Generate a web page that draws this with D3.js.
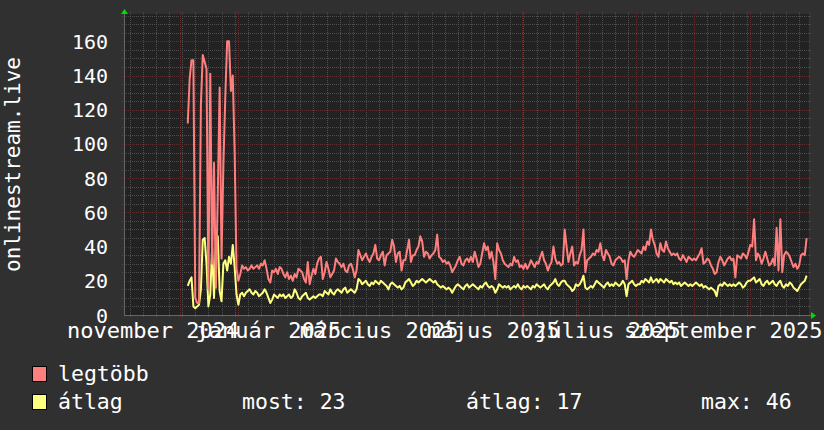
<!DOCTYPE html>
<html>
<head>
<meta charset="utf-8">
<script src="https://cdn.jsdelivr.net/npm/d3@7"></script>
<style>
  html, body { margin: 0; padding: 0; background: #303030; }
  svg { display: block; }
  text { font-family: "DejaVu Sans Mono", monospace; fill: #ffffff; }
</style>
</head>
<body>
<div id="chart"></div>
<script>
// daily values, first day 2024-12-05
const firstDay = "2024-12-05";

const legtobb = [
  112, 138, 149, 149, 10, 7, 7, 123, 152, 148,
  144, 15, 141, 30, 89, 16, 70, 133, 33, 88,
  127, 160, 160, 131, 140, 95, 27, 20, 24, 29,
  27, 28, 26, 27, 29, 27, 28, 29, 27, 30,
  29, 32, 27, 21, 19, 26, 25, 27, 24, 28,
  27, 24, 22, 25, 21, 23, 20, 24, 22, 27,
  26, 25, 21, 19, 31, 18, 23, 27, 24, 30,
  33, 34, 21, 25, 31, 27, 22, 24, 26, 33,
  31, 30, 28, 30, 26, 25, 29, 30, 27, 22,
  26, 38, 35, 32, 34, 36, 33, 31, 34, 36,
  41, 33, 32, 35, 37, 29, 35, 36, 37, 44,
  40, 31, 36, 37, 26, 32, 32, 38, 44, 31,
  35, 35, 38, 40, 46, 43, 34, 37, 36, 33,
  35, 36, 38, 47, 34, 33, 31, 32, 30, 31,
  29, 25, 27, 29, 32, 34, 30, 29, 32, 33,
  31, 34, 31, 37, 33, 28, 30, 36, 42, 38,
  40, 33, 37, 31, 21, 42, 38, 36, 32, 30,
  29, 28, 30, 29, 34, 31, 32, 28, 29, 27,
  30, 27, 29, 32, 30, 28, 31, 30, 34, 37,
  32, 30, 26, 29, 31, 40, 33, 30, 31, 29,
  30, 50, 40, 31, 36, 40, 29, 31, 30, 35,
  38, 50, 25, 32, 33, 34, 36, 35, 38, 37,
  42, 35, 32, 38, 36, 34, 30, 29, 32, 33,
  34, 33, 31, 32, 21, 32, 37, 35, 34, 36,
  38, 37, 36, 40, 38, 43, 41, 50, 44, 41,
  36, 34, 42, 38, 37, 43, 39, 37, 35, 36,
  35, 36, 33, 32, 35, 33, 31, 34, 33, 32,
  33, 32, 34, 36, 39, 30, 31, 33, 32, 29,
  27, 24, 25, 31, 34, 32, 29, 31, 33, 34,
  32, 33, 22, 35, 34, 33, 36, 35, 33, 37,
  41, 40, 56, 32, 36, 34, 30, 33, 37, 33,
  29, 30, 33, 29, 51, 26, 56, 25, 35, 37,
  36, 34, 31, 28, 30, 27, 29, 35, 36, 35,
  45
];

const atlag = [
  17, 20, 22, 5, 4, 5, 6, 15, 44, 45,
  30, 5, 12, 39, 10, 42, 46, 14, 8, 30,
  32, 26, 34, 30, 41, 28, 12, 6, 12, 13,
  11, 13, 14, 15, 13, 12, 14, 13, 11, 12,
  13, 15, 13, 10, 7, 9, 12, 11, 10, 12,
  11, 12, 10, 11, 12, 10, 11, 15, 13, 10,
  9, 11, 12, 13, 10, 9, 10, 11, 10, 11,
  12, 12, 11, 14, 13, 12, 15, 13, 12, 14,
  15, 14, 13, 15, 16, 13, 14, 15, 14, 13,
  15, 21, 20, 18, 19, 20, 18, 17, 19, 18,
  20, 19, 18, 20, 19, 18, 17, 15, 18, 19,
  18, 17, 16, 17, 15, 16, 19, 20, 21, 19,
  17, 18, 20, 19, 20, 21, 20, 19, 20, 21,
  20, 19, 20, 18, 17, 16, 17, 16, 15, 16,
  15, 13, 15, 17, 18, 17, 16, 15, 17, 18,
  16, 17, 18, 17, 16, 15, 17, 16, 18, 19,
  17, 16, 17, 16, 13, 15, 18, 17, 16, 17,
  16, 17, 15, 16, 17, 16, 18, 16, 15, 17,
  16, 17, 16, 15, 17, 16, 18, 17, 16, 17,
  18, 16, 15, 17, 18, 19, 21, 18, 17, 19,
  20, 20, 18, 17, 16, 14, 15, 18, 17, 18,
  20, 23, 16, 15, 16, 17, 16, 18, 20, 19,
  18, 17, 16, 18, 19, 17, 18, 17, 19, 18,
  17, 18, 20, 18, 11, 18, 19, 20, 18, 17,
  18, 18, 20, 19, 21, 20, 19, 22, 19, 20,
  21, 19, 21, 20, 19, 21, 20, 19, 20, 18,
  19, 18, 19, 17, 18, 19, 18, 17, 18, 17,
  18, 19, 18, 17, 18, 16, 17, 16, 15, 16,
  15, 14, 11, 17, 18, 17, 19, 18, 17, 18,
  17, 18, 17, 18, 19, 18, 16, 17, 19, 20,
  20, 21, 22, 19, 20, 21, 18, 17, 19, 20,
  18, 19, 20, 18, 17, 19, 20, 17, 16, 18,
  17, 19, 18, 16, 15, 14, 16, 18, 19, 20,
  23
];

const seriesNames = ["legtöbb", "átlag"];
const statLabels = ["most: 23", "átlag: 17", "max: 46"];
const yTicks = [0, 20, 40, 60, 80, 100, 120, 140, 160];
const yAxisTitle = "onlinestream.live";
const huMonths = ["január", "február", "március", "április", "május", "június",
  "július", "augusztus", "szeptember", "október", "november", "december"];

const W = 824, H = 430;
const plot = {left: 124, right: 809, top: 14, bottom: 315};
const colors = {red: "#ff7f7f", yellow: "#ffff7f"};

const svg = d3.select("#chart").append("svg")
    .attr("width", W)
    .attr("height", H);

svg.append("rect").attr("width", W).attr("height", H).attr("fill", "#303030");
svg.append("rect")
    .attr("x", plot.left).attr("y", plot.top)
    .attr("width", plot.right - plot.left).attr("height", plot.bottom - plot.top)
    .attr("fill", "#222222");

const t0 = new Date(Date.UTC(2024, 10, 1));
const t1 = new Date(Date.UTC(2025, 10, 1));
const x = d3.scaleUtc().domain([t0, t1]).range([plot.left, 808.5]);
const y = d3.scaleLinear().domain([0, 176]).range([plot.bottom, plot.top]);

const start = new Date(firstDay + "T00:00:00Z");
const days = legtobb.map((d, i) => d3.utcDay.offset(start, i));

// grid: minor
const grid = svg.append("g");
d3.range(5, 176, 5).filter(v => v % 20 !== 0).forEach(v => {
    grid.append("line")
        .attr("x1", plot.left - 2).attr("x2", plot.right + 2)
        .attr("y1", Math.round(y(v)) + 0.5).attr("y2", Math.round(y(v)) + 0.5)
        .attr("stroke", "#4e4e4e").attr("stroke-dasharray", "1,1");
});
const months = d3.utcMonth.range(t0, d3.utcDay.offset(t1, 1));
d3.utcMonday.range(t0, t1).filter(d => d3.utcMonth.floor(d).getTime() !== d.getTime()).forEach(d => {
    grid.append("line")
        .attr("x1", Math.round(x(d)) + 0.5).attr("x2", Math.round(x(d)) + 0.5)
        .attr("y1", plot.top - 2).attr("y2", plot.bottom + 2)
        .attr("stroke", "#4e4e4e").attr("stroke-dasharray", "1,1");
});
// grid: major
yTicks.filter(v => v > 0).forEach(v => {
    grid.append("line")
        .attr("x1", plot.left - 2).attr("x2", plot.right + 2)
        .attr("y1", Math.round(y(v)) + 0.5).attr("y2", Math.round(y(v)) + 0.5)
        .attr("stroke", "#5c2e2e").attr("stroke-dasharray", "1,1");
});
months.forEach(d => {
    grid.append("line")
        .attr("x1", Math.round(x(d)) + 0.5).attr("x2", Math.round(x(d)) + 0.5)
        .attr("y1", plot.top - 2).attr("y2", plot.bottom + 3)
        .attr("stroke", "#5c2e2e").attr("stroke-dasharray", "1,1");
});

// axes
svg.append("line")
    .attr("x1", plot.left + 0.5).attr("x2", plot.left + 0.5)
    .attr("y1", plot.top - 2).attr("y2", plot.bottom)
    .attr("stroke", "#666666");
svg.append("line")
    .attr("x1", plot.left).attr("x2", plot.right + 2)
    .attr("y1", plot.bottom + 0.5).attr("y2", plot.bottom + 0.5)
    .attr("stroke", "#666666");
svg.append("path")
    .attr("d", `M${plot.left + 0.5},${plot.top - 5} L${plot.left - 3},${plot.top} L${plot.left + 4},${plot.top} Z`)
    .attr("fill", "#00dd00");
svg.append("path")
    .attr("d", `M${plot.right + 7},${plot.bottom + 0.5} L${plot.right + 2},${plot.bottom - 3} L${plot.right + 2},${plot.bottom + 4} Z`)
    .attr("fill", "#00dd00");

// lines
const line = d3.line()
    .x((d, i) => x(days[i]))
    .y(d => y(d));

svg.append("path").datum(atlag)
    .attr("d", line)
    .attr("fill", "none")
    .attr("stroke", colors.yellow)
    .attr("stroke-width", 2)
    .attr("stroke-linejoin", "round");
svg.append("path").datum(legtobb)
    .attr("d", line)
    .attr("fill", "none")
    .attr("stroke", colors.red)
    .attr("stroke-width", 2)
    .attr("stroke-linejoin", "round");

// y labels
svg.append("g").selectAll("text")
    .data(yTicks)
    .enter()
    .append("text")
    .attr("x", 108)
    .attr("y", d => y(d) + 7.5)
    .attr("text-anchor", "end")
    .style("font-size", "20px")
    .text(d => d);

svg.append("text")
    .attr("transform", `translate(20,${(plot.top + plot.bottom) / 2}) rotate(-90)`)
    .attr("text-anchor", "middle")
    .style("font-size", "21px")
    .text(yAxisTitle);

// x labels, every second month, centred mid-month
const labelMonths = d3.utcMonth.every(2).range(t0, t1);
svg.append("g").selectAll("text")
    .data(labelMonths)
    .enter()
    .append("text")
    .attr("x", d => (x(d) + x(d3.utcMonth.offset(d, 1))) / 2 + 1)
    .attr("y", 338)
    .attr("text-anchor", "middle")
    .style("font-size", "22px")
    .text(d => huMonths[d.getUTCMonth()] + " " + d.getUTCFullYear());

// legend
const legend = svg.append("g");
[colors.red, colors.yellow].forEach((c, i) => {
    legend.append("rect")
        .attr("x", 32.5).attr("y", 366.5 + i * 28)
        .attr("width", 14).attr("height", 15)
        .attr("fill", c).attr("stroke", "#000");
    legend.append("text")
        .attr("x", 58).attr("y", 381 + i * 28)
        .style("font-size", "21.5px")
        .text(seriesNames[i]);
});
[242, 466, 701].forEach((px, i) => {
    legend.append("text")
        .attr("x", px).attr("y", 409)
        .style("font-size", "21.5px")
        .text(statLabels[i]);
});
</script>
</body>
</html>
